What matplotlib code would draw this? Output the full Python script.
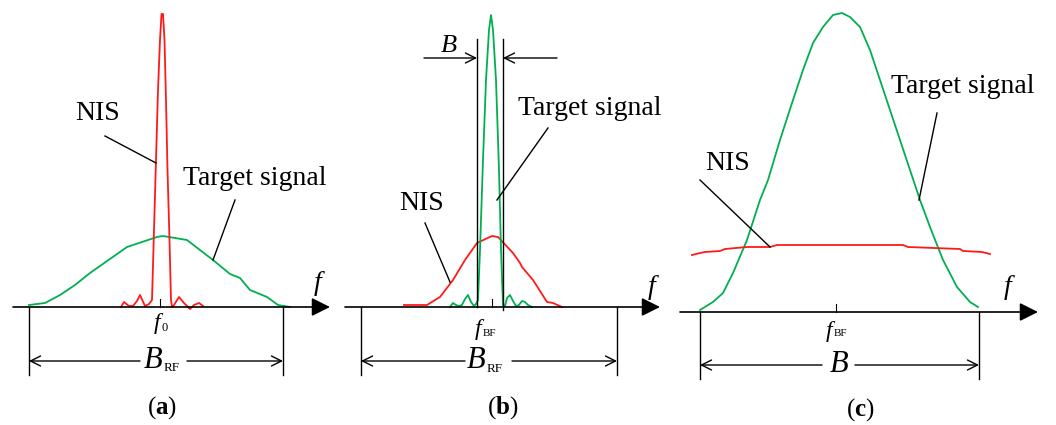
import matplotlib.pyplot as plt

plt.rcParams['font.family'] = 'Liberation Serif'
plt.rcParams['mathtext.fontset'] = 'custom'
plt.rcParams['mathtext.rm'] = 'Liberation Serif'
plt.rcParams['mathtext.it'] = 'Liberation Serif:italic'
plt.rcParams['mathtext.bf'] = 'Liberation Serif:bold'

RED = '#ff1a1a'
GREEN = '#00b050'

# panel (a): curves in pixel coordinates (y downwards)
a_nis_x = [121, 124, 129, 133, 137, 140, 145, 149, 152, 154, 156, 158, 160, 161.5, 163,
           164.5, 166, 167.5, 169.5, 171, 172, 174, 179, 184, 187, 190, 194, 199, 203]
a_nis_y = [307, 302, 306, 306, 301, 295, 306, 304, 300, 230, 160, 90, 40, 14, 14,
           40, 100, 170, 240, 300, 307, 305, 297, 303, 306, 309, 305, 303, 306]
a_tgt_x = [29, 45, 60, 75, 90, 127, 157, 163, 187, 213, 230, 240, 250, 267, 278, 290]
a_tgt_y = [305, 303, 295, 285, 273, 247, 237, 236, 240, 260, 274, 278, 290, 297, 305, 307]

# panel (b)
b_nis_x = [404, 427, 440, 453, 465, 477, 492, 498, 513, 520, 522, 533, 547, 553, 562]
b_nis_y = [305, 305, 297, 280, 260, 243, 236, 237, 253, 263, 267, 280, 302, 303, 307]
b_tgt_x = [450, 453, 456, 459, 462, 465, 468, 471, 474, 476, 478, 480, 483, 486, 489, 491,
           493, 496, 499, 501, 503, 505, 507, 510, 513, 516, 519, 522, 525, 528, 532]
b_tgt_y = [307, 303, 305, 306, 305, 299, 295, 302, 306, 304, 300, 250, 160, 80, 30, 15,
           30, 80, 170, 250, 305, 306, 298, 295, 301, 306, 305, 301, 302, 305, 307]

# panel (c)
c_tgt_x = [700, 713, 723, 733, 747, 760, 768, 780, 793, 803, 813, 823, 833, 842, 850,
           860, 870, 880, 890, 900, 910, 920, 930, 943, 957, 970, 978]
c_tgt_y = [310, 302, 293, 273, 240, 200, 180, 140, 100, 70, 43, 27, 15, 13, 17,
           27, 50, 80, 110, 140, 170, 200, 227, 260, 287, 302, 307]
c_nis_x = [692, 700, 705, 720, 725, 747, 770, 777, 903, 908, 960, 963, 982, 990]
c_nis_y = [255, 253, 252, 251, 249, 247, 247, 245, 245, 247, 249, 251, 252, 254]

fig = plt.figure(figsize=(10.56, 4.25), dpi=100)
ax = fig.add_axes([0, 0, 1, 1])
ax.set_xlim(0, 1056)
ax.set_ylim(425, 0)
ax.axis('off')

K = 'black'
FS = 20


def freq_axis(x0, x1, y, flabel_xy):
    ax.annotate('', xy=(x1, y), xytext=(x0, y),
                arrowprops=dict(arrowstyle='-|>', color=K, lw=1.2, mutation_scale=28,
                                shrinkA=0, shrinkB=0))
    ax.text(flabel_xy[0], flabel_xy[1], 'f', fontsize=FS, style='italic',
            ha='center', va='center')


def sub_label(x, y, main, sub, fs_main, fs_sub, dx, dy):
    ax.text(x, y, main, fontsize=fs_main, style='italic', ha='center', va='center')
    if sub:
        ax.text(x + dx, y + dy, sub, fontsize=fs_sub, ha='left', va='center')


def tick(x, y):
    ax.plot([x, x], [y - 8, y], color=K, lw=0.8)


def dim(xl, xr, ytop, ybot, ya, gl, gr):
    ax.plot([xl, xl], [ytop, ybot], color=K, lw=1)
    ax.plot([xr, xr], [ytop, ybot], color=K, lw=1)
    for xs, xe in [(gl, xl), (gr, xr)]:
        ax.annotate('', xy=(xe, ya), xytext=(xs, ya),
                    arrowprops=dict(arrowstyle='->', color=K, lw=1, mutation_scale=18,
                                    shrinkA=0, shrinkB=0))


def leader(x0, y0, x1, y1):
    ax.plot([x0, x1], [y0, y1], color=K, lw=1)


# ---- (a)
ax.plot(a_tgt_x, a_tgt_y, color=GREEN, lw=1.3)
ax.plot(a_nis_x, a_nis_y, color=RED, lw=1.3)
freq_axis(13, 330, 307, (318, 283))
tick(160, 307)
sub_label(157, 324, 'f', '0', 17, 9, 4, 4)
dim(29, 283, 307, 375, 361, 140, 187)
sub_label(153, 360, 'B', 'RF', 22, 9.5, 11, 8)
ax.text(98, 113, 'NIS', fontsize=FS, ha='center', va='center')
leader(105, 136, 156, 163)
ax.text(255, 178, 'Target signal', fontsize=FS, ha='center', va='center')
leader(235, 200, 213, 260)
ax.text(162, 408, r'($\mathbf{a}$)', fontsize=18, ha='center', va='center')

# ---- (b)
ax.plot(b_nis_x, b_nis_y, color=RED, lw=1.3)
ax.plot(b_tgt_x, b_tgt_y, color=GREEN, lw=1.3)
ax.plot([477, 477], [39, 307], color=K, lw=1)
ax.plot([503, 503], [39, 310], color=K, lw=1)
ax.annotate('', xy=(477, 58), xytext=(424, 58),
            arrowprops=dict(arrowstyle='->', color=K, lw=1, mutation_scale=18, shrinkA=0, shrinkB=0))
ax.annotate('', xy=(503, 58), xytext=(557, 58),
            arrowprops=dict(arrowstyle='->', color=K, lw=1, mutation_scale=18, shrinkA=0, shrinkB=0))
ax.text(449, 46, 'B', fontsize=19, style='italic', ha='center', va='center')
freq_axis(345, 660, 307, (652, 287))
tick(492, 307)
sub_label(478, 329, 'f', 'BF', 17, 8, 5, 4)
dim(361, 617, 307, 375, 361, 465, 512)
sub_label(476, 361, 'B', 'RF', 22, 9.5, 11, 8)
ax.text(422, 203, 'NIS', fontsize=FS, ha='center', va='center')
leader(425, 223, 450, 282)
ax.text(590, 108, 'Target signal', fontsize=FS, ha='center', va='center')
leader(548, 128, 497, 200)
ax.text(503, 408, r'($\mathbf{b}$)', fontsize=18, ha='center', va='center')

# ---- (c)
ax.plot(c_tgt_x, c_tgt_y, color=GREEN, lw=1.3)
ax.plot(c_nis_x, c_nis_y, color=RED, lw=1.3)
freq_axis(680, 1038, 312, (1008, 288))
tick(836, 312)
sub_label(829, 331, 'f', 'BF', 17, 8, 5, 2)
dim(700, 979, 312, 379, 365, 822, 855)
sub_label(839, 364, 'B', '', 22, 9.5, 0, 0)
ax.text(728, 163, 'NIS', fontsize=FS, ha='center', va='center')
leader(700, 180, 770, 247)
ax.text(963, 86, 'Target signal', fontsize=FS, ha='center', va='center')
leader(937, 113, 919, 200)
ax.text(860, 410, r'($\mathbf{c}$)', fontsize=18, ha='center', va='center')

fig.savefig('out.png', dpi=100)
